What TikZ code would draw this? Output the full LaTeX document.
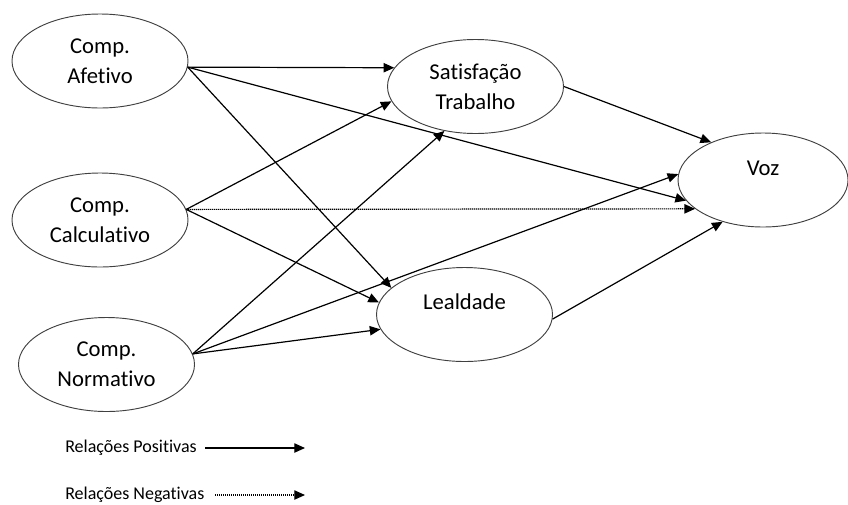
\documentclass[tikz,border=0pt]{standalone}
\usepackage{fontspec}
\setmainfont[Ligatures={NoCommon}]{Carlito}
\usetikzlibrary{arrows.meta,positioning,shapes.geometric}

\begin{document}
\begin{tikzpicture}[x=0.75pt,y=-0.75pt,
	var/.style={draw=black!75,line width=0.7pt,ellipse,inner sep=0pt,minimum width=132pt,minimum height=70.5pt,align=center,font=\fontsize{17}{22.5}\selectfont},
	txt/.style={font=\fontsize{17}{22.5}\selectfont,inner sep=0pt},
	posrel/.style={line width=0.9pt,-{Triangle[length=8pt,width=7pt]}},
	negrel/.style={posrel,dash pattern=on 0.9pt off 0.6pt},
	leg/.style={font=\fontsize{13.5}{16}\selectfont,inner sep=0pt}]
	\useasboundingbox (0,0) rectangle (848,504);
	% variaveis
	\node[var] (afe) at (100,61) {Comp.\\Afetivo};
	\node[var] (calc) at (100,220) {Comp.\\Calculativo};
	\node[var] (norm) at (106.5,364.5) {Comp.\\Normativo};
	\node[var] (sat) at (475.5,86.5) {Satisfação\\Trabalho};
	\node[var,minimum width=127.5pt,label={[txt,yshift=9pt]center:Voz}] (voz) at (763,180) {};
	\node[var,label={[txt,yshift=9.5pt]center:Lealdade}] (leal) at (464.5,314.5) {};
	% relacoes
	\draw[posrel] (afe.-4.5) -- (sat.167);
	\draw[posrel] (afe.-4.5) -- (voz.195);
	\draw[posrel] (afe.-4.5) -- (leal.160.5);
	\draw[posrel] (calc.7.1) -- (sat.190.4);
	\draw[negrel] (calc.7.1) -- (voz.203.5);
	\draw[posrel] (calc.7.1) -- (leal.172);
	\draw[posrel] (norm.7.4) -- (sat.235.4);
	\draw[posrel] (norm.7.4) -- (voz.176.7);
	\draw[posrel] (norm.7.4) -- (leal.190);
	\draw[posrel] (sat.east) -- (voz.144);
	\draw[posrel] (leal.357) -- (voz.226.8);
	% legenda
	\node[leg,anchor=west] (lpos) at (65,448) {Relações Positivas};
	\node[leg,anchor=west] (lneg) at (65,495) {Relações Negativas};
	\coordinate (legE) at (305,0);
	\draw[posrel] ([xshift=6pt]lpos.east) -- (lpos.east -| legE);
	\draw[negrel] ([xshift=8pt]lneg.east) -- (lneg.east -| legE);
\end{tikzpicture}
\end{document}
